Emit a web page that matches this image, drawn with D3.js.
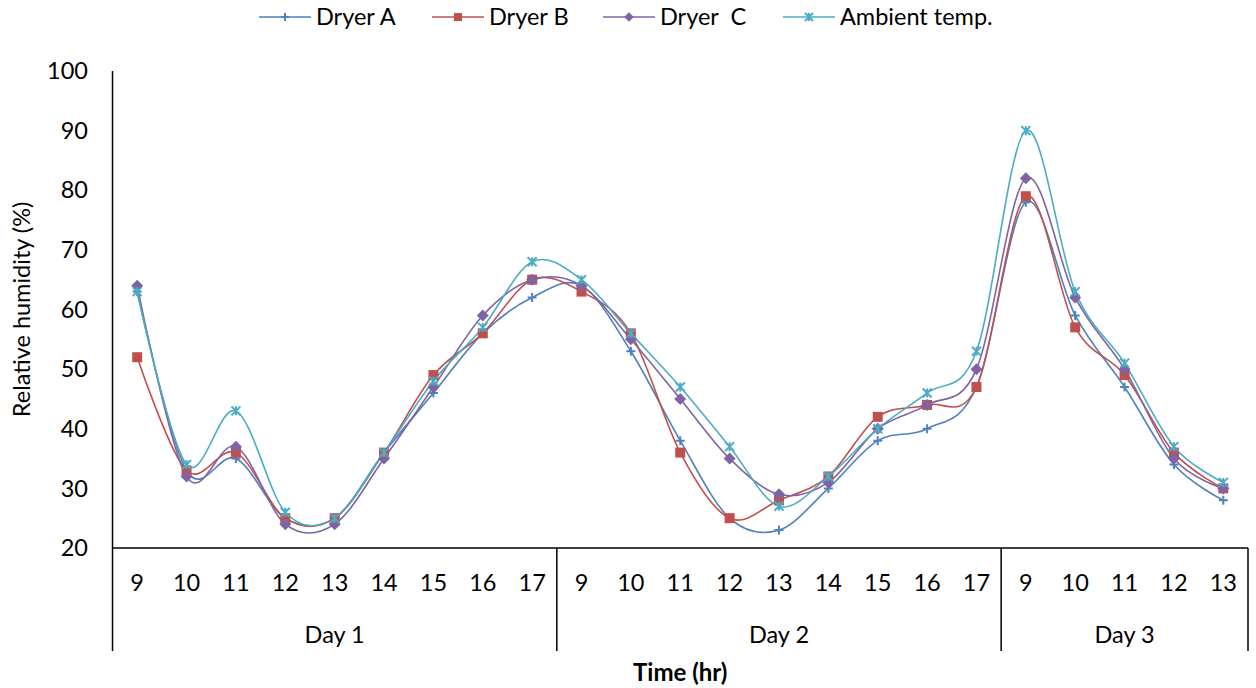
<!DOCTYPE html>
<html>
<head>
<meta charset="utf-8">
<script src="https://cdn.jsdelivr.net/npm/d3@7"></script>
<style>
  body { margin: 0; background: #fff; }
  svg { font-family: Lato, "Open Sans", sans-serif; }
  text { fill: #000; }
</style>
</head>
<body>
<svg width="1256" height="688"></svg>
<script>
const days = ["Day 1", "Day 2", "Day 3"];
const hours = [
  [9, 10, 11, 12, 13, 14, 15, 16, 17],
  [9, 10, 11, 12, 13, 14, 15, 16, 17],
  [9, 10, 11, 12, 13]
];
const yTicks = [20, 30, 40, 50, 60, 70, 80, 90, 100];

const dryerA  = [63, 33, 35, 25, 25, 36, 46, 56, 62,  64, 53, 38, 25, 23, 30, 38, 40, 47,  78, 59, 47, 34, 28];
const dryerB  = [52, 33, 36, 25, 25, 36, 49, 56, 65,  63, 56, 36, 25, 28, 32, 42, 44, 47,  79, 57, 49, 36, 30];
const dryerC  = [64, 32, 37, 24, 24, 35, 47, 59, 65,  64, 55, 45, 35, 29, 31, 40, 44, 50,  82, 62, 50, 35, 30];
const ambient = [63, 34, 43, 26, 25, 36, 48, 57, 68,  65, 56, 47, 37, 27, 32, 40, 46, 53,  90, 63, 51, 37, 31];

const seriesNames = ["Dryer A", "Dryer B", "Dryer  C", "Ambient temp."];
const seriesColors = ["#4F81BD", "#C0504D", "#8064A2", "#4BACC6"];
const seriesMarkers = ["plus", "square", "diamond", "star"];
const seriesValues = [dryerA, dryerB, dryerC, ambient];

const svg = d3.select("svg");

const plotLeft = 112.5, plotRight = 1248, plotTop = 71, plotBottom = 548;
const catBottom = 651;
const fs = "23.5px";

// flat category list
const cats = [];
hours.forEach((hs, di) => hs.forEach(h => cats.push({ key: di + "-" + h, hour: h, day: di })));

const x = d3.scaleBand()
    .domain(cats.map(d => d.key))
    .range([plotLeft, plotRight])
    .padding(0);

const y = d3.scaleLinear()
    .domain([20, 100])
    .range([plotBottom, plotTop]);

const cx = k => x(k) + x.bandwidth() / 2;

// axes lines
svg.append("line")
    .attr("x1", plotLeft).attr("x2", plotLeft)
    .attr("y1", plotTop).attr("y2", catBottom)
    .attr("stroke", "#000").attr("stroke-width", 1.5);

svg.append("line")
    .attr("x1", plotLeft).attr("x2", plotRight)
    .attr("y1", plotBottom).attr("y2", plotBottom)
    .attr("stroke", "#000").attr("stroke-width", 1.5);

// y tick labels
svg.append("g").selectAll("text")
    .data(yTicks)
    .enter().append("text")
    .attr("x", 88)
    .attr("y", d => y(d))
    .attr("dy", "0.35em")
    .attr("text-anchor", "end")
    .style("font-size", fs)
    .text(d => d);

// hour labels
svg.append("g").selectAll("text")
    .data(cats)
    .enter().append("text")
    .attr("x", d => cx(d.key))
    .attr("y", 583)
    .attr("dy", "0.35em")
    .attr("text-anchor", "middle")
    .style("font-size", fs)
    .text(d => d.hour);

// day group dividers and labels
let idx = 0;
const dayGroups = hours.map((hs, di) => {
  const first = cats[idx].key, last = cats[idx + hs.length - 1].key;
  idx += hs.length;
  return { name: days[di], x0: x(first), x1: x(last) + x.bandwidth() };
});

svg.append("g").selectAll("line")
    .data(dayGroups)
    .enter().append("line")
    .attr("x1", d => d.x1).attr("x2", d => d.x1)
    .attr("y1", plotBottom).attr("y2", catBottom)
    .attr("stroke", "#000").attr("stroke-width", 1.5);

svg.append("g").selectAll("text")
    .data(dayGroups)
    .enter().append("text")
    .attr("x", d => (d.x0 + d.x1) / 2)
    .attr("y", 635)
    .attr("dy", "0.35em")
    .attr("text-anchor", "middle")
    .style("font-size", fs)
    .text(d => d.name);

// axis titles
svg.append("text")
    .attr("x", (plotLeft + plotRight) / 2)
    .attr("y", 673)
    .attr("dy", "0.35em")
    .attr("text-anchor", "middle")
    .style("font-size", "24px")
    .style("font-weight", "bold")
    .text("Time (hr)");

svg.append("text")
    .attr("transform", "translate(22," + ((plotTop + plotBottom) / 2) + ") rotate(-90)")
    .attr("dy", "0.35em")
    .attr("text-anchor", "middle")
    .style("font-size", fs)
    .text("Relative humidity (%)");

// marker drawing
function drawMarker(sel, type, color, s) {
  if (type === "square") {
    sel.append("rect")
      .attr("x", -s / 2).attr("y", -s / 2)
      .attr("width", s).attr("height", s)
      .attr("fill", color);
  } else if (type === "diamond") {
    sel.append("path")
      .attr("d", `M0,${-s * 0.6}L${s * 0.6},0L0,${s * 0.6}L${-s * 0.6},0Z`)
      .attr("fill", color);
  } else if (type === "plus") {
    sel.append("path")
      .attr("d", `M${-s / 2},0H${s / 2}M0,${-s / 2}V${s / 2}`)
      .attr("stroke", color).attr("stroke-width", 2).attr("fill", "none");
  } else {
    const r = s / 2;
    sel.append("path")
      .attr("d", `M${-r},${-r}L${r},${r}M${-r},${r}L${r},${-r}M0,${-r}V${r}`)
      .attr("stroke", color).attr("stroke-width", 2).attr("fill", "none");
  }
}

const line = d3.line()
    .x((d, i) => cx(cats[i].key))
    .y(d => y(d))
    .curve(d3.curveCatmullRom.alpha(0));

const plotG = svg.append("g");

seriesValues.forEach((vals, si) => {
  plotG.append("path")
    .attr("d", line(vals))
    .attr("fill", "none")
    .attr("stroke", seriesColors[si])
    .attr("stroke-width", 1.6);
});

const markerSize = [9, 10, 10, 9];
seriesValues.forEach((vals, si) => {
  vals.forEach((v, i) => {
    const m = plotG.append("g")
      .attr("transform", "translate(" + cx(cats[i].key) + "," + y(v) + ")");
    drawMarker(m, seriesMarkers[si], seriesColors[si], markerSize[si]);
  });
});

// legend
const legendX = [259, 432, 603, 783];
const legendG = svg.append("g").attr("transform", "translate(0,17)");
seriesNames.forEach((name, si) => {
  const g = legendG.append("g").attr("transform", "translate(" + legendX[si] + ",0)");
  g.append("line")
    .attr("x1", 0).attr("x2", 52)
    .attr("stroke", seriesColors[si]).attr("stroke-width", 1.6);
  const m = g.append("g").attr("transform", "translate(26,0)");
  drawMarker(m, seriesMarkers[si], seriesColors[si], 8);
  g.append("text")
    .attr("x", 57)
    .attr("dy", "0.35em")
    .style("font-size", fs)
    .style("white-space", "pre")
    .text(name);
});
</script>
</body>
</html>
